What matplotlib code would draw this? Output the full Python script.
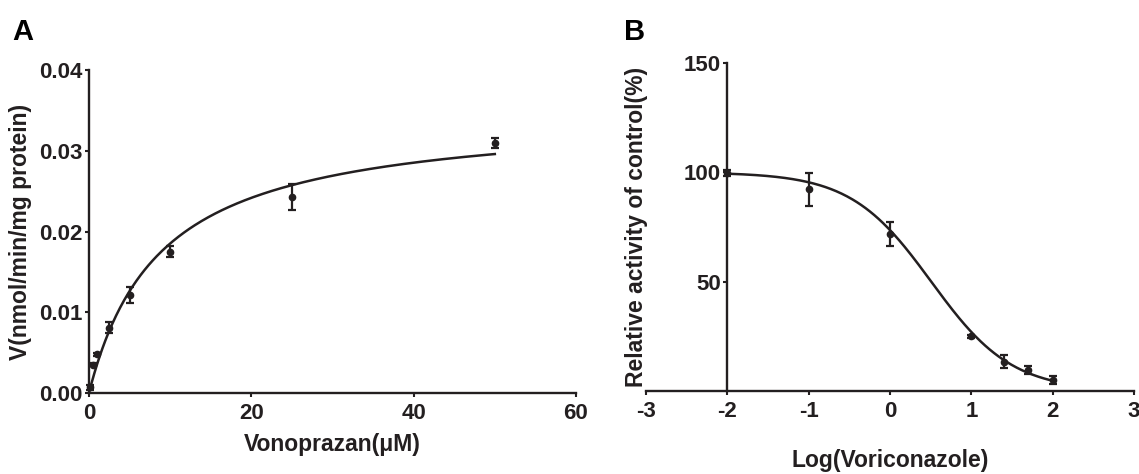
"""
Two-panel enzyme kinetics figure: Michaelis-Menten (A) and inhibition curve (B).
"""
import matplotlib
matplotlib.use("Agg")
import matplotlib.pyplot as plt
import numpy as np

plt.rcParams["font.family"] = ["Liberation Sans", "DejaVu Sans"]
plt.rcParams["font.weight"] = "bold"

INK = "#231f20"

# -- panel A data ---------------------------------------------------------------
vono_conc = [0.1, 0.5, 1, 2.5, 5, 10, 25, 50]
vono_rate = [0.0007, 0.0035, 0.0048, 0.0081, 0.0121, 0.0175, 0.0243, 0.0310]
vono_err  = [0.0003, 0.0002, 0.0002, 0.0007, 0.0010, 0.0007, 0.0016, 0.0006]
# fitted Michaelis-Menten parameters
VMAX = 0.0348
KM   = 8.8

# -- panel B data ---------------------------------------------------------------
log_vori   = [-2, -1, 0, 1, 1.398, 1.699, 2]
rel_act    = [99.7, 92.3, 72.0, 25.0, 13.3, 9.6, 5.0]
rel_err    = [1.5, 7.5, 5.5, 0.8, 3.0, 2.0, 2.0]
# fitted 4-parameter logistic
TOP, BOTTOM, LOGIC50, HILL = 100.0, 0.0, 0.507, 0.877

fig = plt.figure(figsize=(11.39, 4.74), dpi=100)
axA = fig.add_axes([0.0781, 0.1709, 0.4276, 0.6814])
axB = fig.add_axes([0.5672, 0.1751, 0.4284, 0.6920])


def style(ax):
    for side in ("top", "right"):
        ax.spines[side].set_visible(False)
    for side in ("left", "bottom"):
        ax.spines[side].set_linewidth(1.7)
        ax.spines[side].set_color(INK)
    ax.tick_params(direction="out", length=3, width=1.5, colors=INK,
                   labelsize=16, pad=1.5)
    ax.tick_params(axis="x", pad=4.5)
    for lbl in ax.get_xticklabels() + ax.get_yticklabels():
        lbl.set_fontweight("bold")


# -- panel A ---------------------------------------------------------------------
xs = np.linspace(0, max(vono_conc), 300)
axA.plot(xs, VMAX * xs / (KM + xs), color=INK, lw=1.8, clip_on=False, zorder=3)
axA.errorbar(vono_conc, vono_rate, yerr=vono_err, fmt="o", color=INK,
             ms=4.5, elinewidth=1.6, capsize=3.2, capthick=1.6, clip_on=False, zorder=4)
axA.set_xlim(0, 60)
axA.set_ylim(0, 0.04)
axA.set_xticks([0, 20, 40, 60])
axA.set_yticks([0.00, 0.01, 0.02, 0.03, 0.04])
axA.set_yticklabels(["0.00", "0.01", "0.02", "0.03", "0.04"])
style(axA)
axA.set_xlabel("Vonoprazan(\u03bcM)", fontsize=16.5, fontweight="bold", color=INK)
axA.set_ylabel("V(nmol/min/mg protein)", fontsize=16.5, fontweight="bold", color=INK)
axA.xaxis.set_label_coords(0.5, -0.125)
axA.yaxis.set_label_coords(-0.117, 0.5)

# -- panel B ---------------------------------------------------------------------
lx = np.linspace(min(log_vori), max(log_vori), 300)
axB.plot(lx, BOTTOM + (TOP - BOTTOM) / (1 + 10 ** ((lx - LOGIC50) * HILL)),
         color=INK, lw=1.8, clip_on=False, zorder=3)
axB.errorbar(log_vori, rel_act, yerr=rel_err, fmt="o", color=INK,
             ms=4.5, elinewidth=1.6, capsize=3.2, capthick=1.6, clip_on=False, zorder=4)
axB.set_xlim(-3, 3)
axB.set_ylim(0, 150)
axB.set_xticks([-3, -2, -1, 0, 1, 2, 3])
axB.set_xticklabels(["-3", "-2", "-1", "0", "1", "2", "3"])
axB.set_yticks([50, 100, 150])
axB.spines["left"].set_position(("data", -2))
style(axB)
axB.set_xlabel("Log(Voriconazole)", fontsize=16.5, fontweight="bold", color=INK)
axB.set_ylabel("Relative activity of control(%)", fontsize=16.5, fontweight="bold", color=INK)
axB.xaxis.set_label_coords(0.5, -0.177)
axB.yaxis.set_label_coords(0.004, 0.5)

# panel letters
fig.text(0.011, 0.915, "A", fontsize=21, fontweight="bold", color="black")
fig.text(0.548, 0.915, "B", fontsize=21, fontweight="bold", color="black")

fig.savefig("out.png", dpi=100)
plt.close(fig)
